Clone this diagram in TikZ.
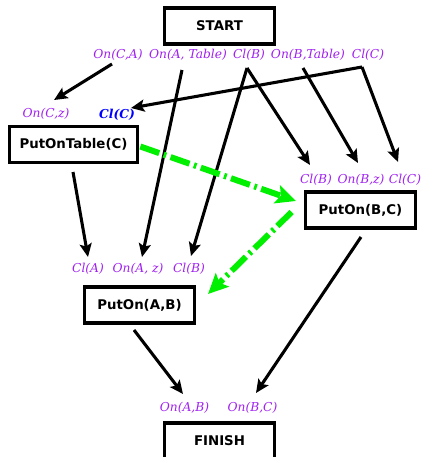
\documentclass[tikz,border=0pt]{standalone}
\usepackage{fontspec}
\setmainfont{DejaVu Serif}
\setsansfont{DejaVu Sans}
\usetikzlibrary{arrows.meta}
\definecolor{condcol}{RGB}{160,32,240}
\definecolor{linkgreen}{RGB}{0,240,0}
\begin{document}
\begin{tikzpicture}[x=0.75pt,y=-0.75pt,
  stepbox/.style={draw,line width=2.3pt,minimum height=27pt,inner sep=0pt,
    font=\sffamily\bfseries\fontsize{10}{11}\selectfont},
  cond/.style={text=condcol,inner sep=0pt,font=\itshape\fontsize{9.2}{10}\selectfont},
  link/.style={line width=2.3pt,-{Stealth[length=10pt,width=9pt,inset=2pt]}},
  threat/.style={linkgreen,line width=4.5pt,dash pattern=on 15pt off 3.5pt on 2pt off 3.5pt,
    -{Stealth[length=15pt,width=14pt,inset=3pt]}}]
\useasboundingbox (0,0) rectangle (422,457);

% plan steps
\node[stepbox,minimum width=83pt] (start) at (219.5,26) {START};
\node[stepbox,minimum width=96.5pt] (pot) at (73.5,144.5) {PutOnTable(C)};
\node[stepbox,minimum width=83pt] (pobc) at (360.5,210) {PutOn(B,C)};
\node[stepbox,minimum width=83pt] (poab) at (139.5,305) {PutOn(A,B)};
\node[stepbox,minimum width=83pt] (finish) at (219.5,441) {FINISH};

% effects of START
\node[cond] (s1) at (118,55) {On(C,A)};
\node[cond] (s2) at (188,55) {On(A, Table)};
\node[cond] (s3) at (249,55) {Cl(B)};
\node[cond] (s4) at (308,55) {On(B,Table)};
\node[cond] (s5) at (368,55) {Cl(C)};

% preconditions of PutOnTable(C)
\node[cond] (p1) at (46,114) {On(C,z)};
\node[cond,text=blue,font=\itshape\bfseries\fontsize{9.2}{10}\selectfont] (p2) at (117,115) {Cl(C)};

% preconditions of PutOn(B,C)
\node[cond] (b1) at (316,180) {Cl(B)};
\node[cond] (b2) at (361,180) {On(B,z)};
\node[cond] (b3) at (405,180) {Cl(C)};

% preconditions of PutOn(A,B)
\node[cond] (a1) at (88,269) {Cl(A)};
\node[cond] (a2) at (138,269) {On(A, z)};
\node[cond] (a3) at (189,269) {Cl(B)};

% preconditions of FINISH
\node[cond] (f1) at (184.5,408) {On(A,B)};
\node[cond] (f2) at (252.5,408) {On(B,C)};

% link end points
\coordinate (s1o) at (112,64);
\coordinate (p1i) at (54,100);
\coordinate (s2o) at (182,70);
\coordinate (a2i) at (142,257);
\coordinate (s3o) at (247,68);
\coordinate (a3i) at (191,256);
\coordinate (b1i) at (310,165);
\coordinate (s4o) at (303,68);
\coordinate (b2i) at (358,163);
\coordinate (s5o) at (362,67);
\coordinate (p2i) at (131,108);
\coordinate (b3i) at (398,162);
\coordinate (poto) at (73,172);
\coordinate (a1i) at (88,257);
\coordinate (pobco) at (361,237);
\coordinate (f2i) at (256,393);
\coordinate (poabo) at (134,330);
\coordinate (f1i) at (183,394);

% causal links
\draw[link] (s1o) -- (p1i);
\draw[link] (s2o) -- (a2i);
\draw[link] (s3o) -- (a3i);
\draw[link] (s3o) -- (b1i);
\draw[link] (s4o) -- (b2i);
\draw[link] (s5o) -- (p2i);
\draw[link] (s5o) -- (b3i);
\draw[link] (poto) -- (a1i);
\draw[link] (pobco) -- (f2i);
\draw[link] (poabo) -- (f1i);

% ordering constraints
\draw[threat] (pot.east) ++(1,2) -- (296,201);
\draw[threat] (pobc.west) ++(-12,2) -- (208,294);
\end{tikzpicture}
\end{document}
